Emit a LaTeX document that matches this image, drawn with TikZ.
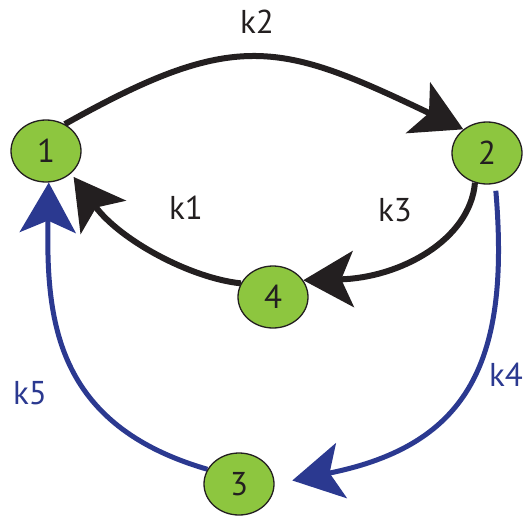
\documentclass[tikz,border=0pt]{standalone}
\usepackage{fontspec}
\setmainfont{PT Sans}
\usetikzlibrary{arrows.meta,shapes.geometric,backgrounds}
\definecolor{nodegreen}{HTML}{8DC63F}
\definecolor{inkblack}{HTML}{231F20}
\definecolor{inkblue}{HTML}{2B3990}
\tikzset{
  state/.style={ellipse, draw=inkblack, line width=1.3pt, fill=nodegreen,
    minimum width=70pt, minimum height=62pt, inner sep=0pt,
    font=\fontsize{33}{33}\selectfont, text=inkblack},
  rate/.style={font=\fontsize{33}{33}\selectfont, inner sep=0pt},
  bigtip/.style={-{Stealth[length=50pt,width=56pt,inset=12pt]}},
  blackarc/.style={bigtip, draw=inkblack, line width=6pt},
  bluearc/.style={bigtip, draw=inkblue, line width=5pt},
}
\begin{document}
\begin{tikzpicture}[x=1pt,y=-1pt]
\useasboundingbox (0,0) rectangle (523,515);
\node[state] (n1) at (46,151) {1};
\node[state] (n2) at (487,153) {2};
\node[state] (n4) at (273,297) {4};
\node[state] (n3) at (239,484) {3};

\begin{pgfonlayer}{background}
\draw[blackarc] (n1.55) .. controls (236,28) and (280,42) .. (n2.135);
\draw[blackarc] (n2.248) .. controls (470,240) and (400,278) .. (n4.29);
\draw[blackarc] (n4.157) .. controls (190,278) and (120,240) .. ([shift={(3pt,-3pt)}]n1.317);
\draw[bluearc, shorten <=7pt, shorten >=18pt] (n2.285) .. controls (510,360) and (470,445) .. (n3.0);
\draw[bluearc] (n3.155) .. controls (55,425) and (46,320) .. (n1.275);
\end{pgfonlayer}

\node[rate, text=inkblack] (lk2) at (257,22) {k2};
\node[rate, text=inkblack] (lk1) at (186,208) {k1};
\node[rate, text=inkblack] (lk3) at (395,210) {k3};
\node[rate, text=inkblue] (lk4) at (506,375) {k4};
\node[rate, text=inkblue] (lk5) at (30,393) {k5};
\end{tikzpicture}
\end{document}
